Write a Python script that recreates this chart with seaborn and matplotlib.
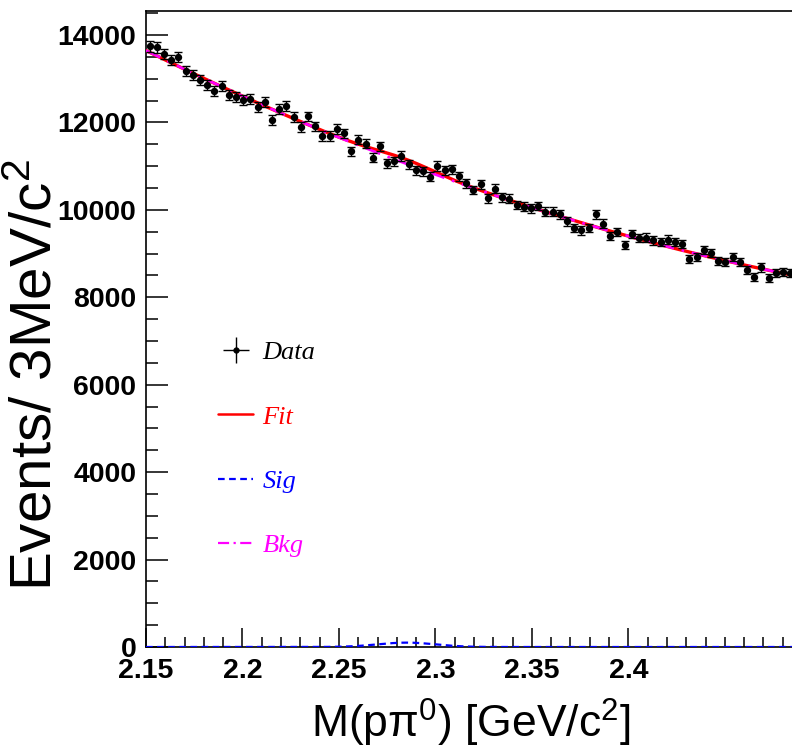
import numpy as np
import pandas as pd
import matplotlib
matplotlib.use("Agg")
import matplotlib.pyplot as plt
from matplotlib.lines import Line2D
from matplotlib.ticker import MultipleLocator
import seaborn as sns

# ---- data: M(p pi0) spectrum, events per bin ----
mass_low = 2.15
bin_width = 0.00373
counts = [13740, 13715, 13563, 13426, 13491, 13175, 13085, 12975, 12857, 12720,
          12830, 12628, 12575, 12506, 12530, 12358, 12465, 12053, 12305, 12380,
          12118, 11894, 12140, 11908, 11695, 11691, 11848, 11750, 11342, 11605,
          11513, 11195, 11455, 11066, 11110, 11230, 11040, 10905, 10880, 10760,
          11004, 10905, 10932, 10765, 10610, 10455, 10590, 10265, 10480, 10285,
          10255, 10112, 10074, 10036, 10089, 9959, 9955, 9900, 9738, 9590,
          9530, 9585, 9900, 9685, 9405, 9490, 9197, 9445, 9360, 9366,
          9300, 9270, 9320, 9260, 9215, 8877, 8920, 9083, 9015, 8835,
          8810, 8915, 8815, 8625, 8458, 8683, 8434, 8549, 8570, 8560]

# signal shape (Gaussian) parameters
sig_peak = 100.0
sig_mean = 2.285
sig_sigma = 0.015

x_ticks = [2.15, 2.2, 2.25, 2.3, 2.35, 2.4]
x_tick_labels = ["2.15", "2.2", "2.25", "2.3", "2.35", "2.4"]
y_ticks = [0, 2000, 4000, 6000, 8000, 10000, 12000, 14000]

counts = np.asarray(counts, dtype=float)
centers = mass_low + bin_width * (np.arange(len(counts)) + 0.5)
errors = np.sqrt(counts)
data = pd.DataFrame({"mass": centers, "events": counts, "err": errors})


def signal(m):
    return sig_peak * np.exp(-0.5 * ((m - sig_mean) / sig_sigma) ** 2)


# background: weighted polynomial fit to data with the signal removed
coef = np.polyfit(centers - mass_low, counts - signal(centers), 2, w=1.0 / errors)
grid = np.linspace(2.15, 2.4848, 600)
bkg = np.polyval(coef, grid - mass_low)
sig = signal(grid)
curves = pd.DataFrame({"mass": grid, "bkg": bkg, "sig": sig, "fit": bkg + sig})

# ---- figure ----
sns.set_theme(style="ticks")
plt.rcParams["font.family"] = ["Liberation Sans", "DejaVu Sans"]
plt.rcParams["mathtext.fontset"] = "custom"
plt.rcParams["mathtext.rm"] = "Liberation Sans"
plt.rcParams["mathtext.it"] = "Liberation Sans:italic"
fig = plt.figure(figsize=(7.92, 7.49), dpi=100)
ax = fig.add_axes([146 / 792, 102 / 749, 646 / 792, 636 / 749])

sns.lineplot(data=curves, x="mass", y="fit", ax=ax, color="red", lw=2.4,
             zorder=3, legend=False)
sns.lineplot(data=curves, x="mass", y="sig", ax=ax, color="blue", lw=1.6,
             zorder=3, legend=False)
ax.lines[-1].set_linestyle((0, (3, 2)))
sns.lineplot(data=curves, x="mass", y="bkg", ax=ax, color="magenta", lw=1.9,
             zorder=4, legend=False)
ax.lines[-1].set_linestyle((0, (6, 3, 1, 3)))

ax.errorbar(data["mass"], data["events"], yerr=data["err"], fmt="none",
            ecolor="black", elinewidth=1.0, capsize=3.0, capthick=1.0, zorder=5)
sns.scatterplot(data=data, x="mass", y="events", ax=ax, color="black", s=28,
                edgecolor="black", linewidth=0, zorder=6, legend=False)

ax.set_xlim(2.15, 2.4848)
ax.set_ylim(0, 14550)
ax.set_xticks(x_ticks)
ax.set_xticklabels(x_tick_labels)
ax.set_yticks(y_ticks)
ax.xaxis.set_minor_locator(MultipleLocator(0.01))
ax.yaxis.set_minor_locator(MultipleLocator(500))

ax.tick_params(axis="both", which="both", direction="in", colors="black",
               width=1.1)
ax.tick_params(axis="x", which="major", length=14, pad=8)
ax.tick_params(axis="x", which="minor", length=7)
ax.tick_params(axis="y", which="major", length=16, pad=7)
ax.tick_params(axis="y", which="minor", length=8.5)
for lab in ax.get_xticklabels() + ax.get_yticklabels():
    lab.set_fontsize(20.5)
    lab.set_fontweight("bold")

ax.spines["right"].set_visible(False)
for s in ("left", "bottom", "top"):
    ax.spines[s].set_color("black")
    ax.spines[s].set_linewidth(1.2)

ax.set_xlabel("M(pπ$^{0}$) [GeV/c$^{2}$]", fontsize=32, color="black")
ax.set_ylabel("Events/ 3MeV/c$^{2}$", fontsize=42, color="black")
ax.xaxis.set_label_coords(0.503, -0.078)
ax.yaxis.set_label_coords(-0.128, 0.428)

# legend
h_data = ax.errorbar([np.nan], [np.nan], xerr=[1], yerr=[1], fmt="o",
                     color="black", ms=3.5, elinewidth=1.0, capsize=0)
h_fit = Line2D([], [], color="red", lw=1.8)
h_sig = Line2D([], [], color="blue", lw=1.6, ls=(0, (3, 2)))
h_bkg = Line2D([], [], color="magenta", lw=1.6, ls=(0, (5, 2, 1, 2)))
leg = ax.legend([h_data, h_fit, h_sig, h_bkg], ["Data", "Fit", "Sig", "Bkg"],
                loc="upper left", bbox_to_anchor=(0.075, 0.519), frameon=False,
                handlelength=1.33, handletextpad=0.35, labelspacing=1.55,
                prop={"family": "Liberation Serif", "style": "italic",
                      "size": 19})
for txt, col in zip(leg.get_texts(), ["black", "red", "blue", "magenta"]):
    txt.set_color(col)

fig.savefig("out.png", dpi=100, facecolor="white")
